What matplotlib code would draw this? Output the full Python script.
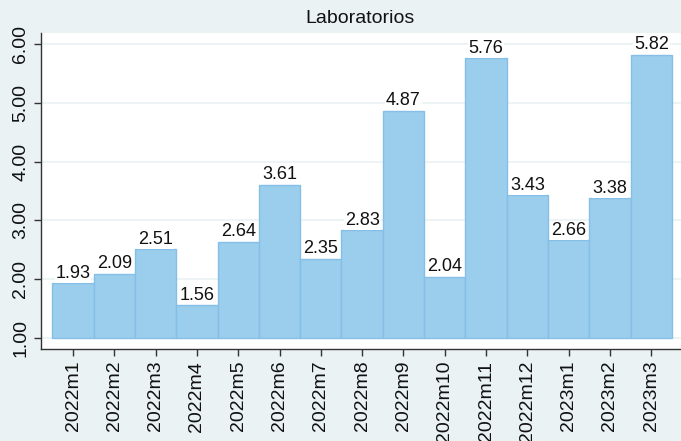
import matplotlib
matplotlib.use("Agg")
import matplotlib.pyplot as plt

# datos: promedio mensual, Laboratorios
meses = ["2022m1", "2022m2", "2022m3", "2022m4", "2022m5", "2022m6", "2022m7",
         "2022m8", "2022m9", "2022m10", "2022m11", "2022m12", "2023m1", "2023m2", "2023m3"]
valores = [1.93, 2.09, 2.51, 1.56, 2.64, 3.61, 2.35, 2.83, 4.87, 2.04, 5.76, 3.43, 2.66, 3.38, 5.82]
yticks = [1, 2, 3, 4, 5, 6]
titulo = "Laboratorios"

plt.rcParams["font.family"] = ["Liberation Sans", "DejaVu Sans"]
BG = "#EAF2F3"

fig = plt.figure(figsize=(6.81, 4.41), dpi=100, facecolor=BG)
ax = fig.add_axes([0.0602, 0.2086, 0.9398, 0.7164])
ax.set_facecolor("white")

x = list(range(len(meses)))
base = 1.0
alturas = [v - base for v in valores]
bars = ax.bar(x, alturas, bottom=base, width=1.0, color="#9BCDEC",
              edgecolor="#85BFE8", linewidth=1.0, zorder=2)
for xi, v in zip(x, valores):
    ax.annotate(f"{v:.2f}", (xi, v), xytext=(0, 1), textcoords="offset points",
                ha="center", va="bottom", fontsize=13, color="#111111",
                bbox=dict(boxstyle="square,pad=0.05", fc="white", ec="none"), zorder=3)

ax.set_xlim(-0.775, 14.72)
ax.set_ylim(0.81, 6.19)
ax.set_yticks(yticks)
ax.set_yticklabels([f"{t:.2f}" for t in yticks], rotation=90, va="center", fontsize=14)
ax.set_xticks(x)
ax.set_xticklabels(meses, rotation=90, fontsize=14)
ax.yaxis.grid(True, color=BG, linewidth=1.2, zorder=0)
ax.set_axisbelow(True)
for s in ["top", "right"]:
    ax.spines[s].set_visible(False)
for s in ["left", "bottom"]:
    ax.spines[s].set_color("#333333")
    ax.spines[s].set_linewidth(1.0)
ax.tick_params(axis="both", direction="out", length=5, width=1, color="#333333",
               labelcolor="#111111")

fig.text(0.528, 0.958, titulo, ha="center", va="center", fontsize=14, color="#111111")

fig.savefig("out.png", dpi=100, facecolor=BG)
